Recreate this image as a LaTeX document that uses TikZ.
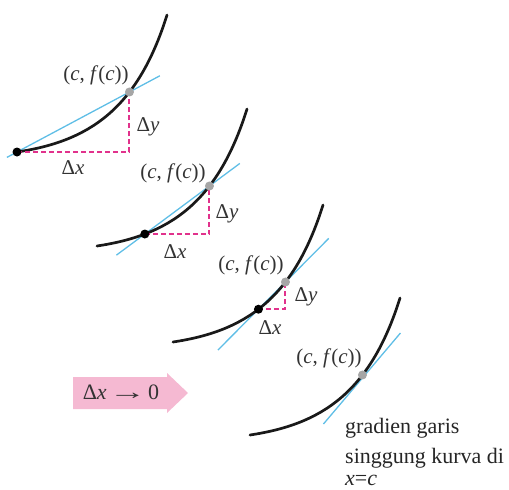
\documentclass[tikz,border=0pt]{standalone}
\usepackage{fontspec}
\usepackage{graphicx}
\setmainfont{Liberation Serif}
\usetikzlibrary{calc}
\begin{document}
\begin{tikzpicture}[x=1pt,y=-1pt,
  curve/.style={line width=2.7pt,line cap=round,black!90},
  tangent/.style={line width=1.3pt,color={rgb,255:red,95;green,190;blue,230}},
  delta/.style={line width=2pt,dash pattern=on 5pt off 3pt,color={rgb,255:red,225;green,50;blue,140}},
  lbl/.style={font=\fontsize{21}{24}\selectfont,text=black!80,inner sep=0pt},
  txt/.style={font=\fontsize{22}{24}\selectfont,text=black!85,inner sep=0pt,anchor=base west},
  bdot/.style={circle,fill=black,inner sep=0pt,minimum size=9pt},
  gdot/.style={circle,fill=black!35,inner sep=0pt,minimum size=9pt}]
\useasboundingbox (0,0) rectangle (509,490);
% panel 1
\begin{scope}[shift={(17,152)}]
\path (0,0) .. controls (70,-10.5) and (120,-41) .. (150,-137)
  coordinate[pos=0] (a1) coordinate[pos=0.66] (c1);
\coordinate (r1) at (a1 -| c1);
\draw[tangent] ($(a1)!-0.09!(c1)$) coordinate (t1s) -- ($(a1)!1.27!(c1)$) coordinate (t1e);
\draw[curve] (0,0) .. controls (70,-10.5) and (120,-41) .. (150,-137);
\draw[delta] (a1) -- (r1) -- (c1);
\node[bdot] at (a1) {};
\node[gdot] at (c1) {};
\end{scope}
\node[lbl] (p1) at (96,75) {(\textit{c}, \textit{f}(\textit{c}))};
\node[lbl] (dx1) at (73,168) {Δ\textit{x}};
\node[lbl] (dy1) at (148,127) {Δ\textit{y}};
% panel 2
\begin{scope}[shift={(97,246)}]
\path (0,0) .. controls (70,-10.5) and (120,-41) .. (150,-137)
  coordinate[pos=0.245] (a2) coordinate[pos=0.66] (c2);
\coordinate (r2) at (a2 -| c2);
\draw[tangent] ($(a2)!-0.44!(c2)$) coordinate (t2s) -- ($(a2)!1.47!(c2)$) coordinate (t2e);
\draw[curve] (0,0) .. controls (70,-10.5) and (120,-41) .. (150,-137);
\draw[delta] (a2) -- (r2) -- (c2);
\node[bdot] at (a2) {};
\node[gdot] at (c2) {};
\end{scope}
\node[lbl] (p2) at (173,173) {(\textit{c}, \textit{f}(\textit{c}))};
\node[lbl] (dx2) at (175,252) {Δ\textit{x}};
\node[lbl] (dy2) at (227,214) {Δ\textit{y}};
% panel 3
\begin{scope}[shift={(173,342)}]
\path (0,0) .. controls (70,-10.5) and (120,-41) .. (150,-137)
  coordinate[pos=0.47] (a3) coordinate[pos=0.66] (c3);
\coordinate (r3) at (a3 -| c3);
\draw[tangent] ($(a3)!-1.5!(c3)$) coordinate (t3s) -- ($(a3)!2.6!(c3)$) coordinate (t3e);
\draw[curve] (0,0) .. controls (70,-10.5) and (120,-41) .. (150,-137);
\draw[delta] (a3) -- (r3) -- (c3);
\node[bdot] at (a3) {};
\node[gdot] at (c3) {};
\end{scope}
\node[lbl] (p3) at (251,265) {(\textit{c}, \textit{f}(\textit{c}))};
\node[lbl] (dx3) at (270,328) {Δ\textit{x}};
\node[lbl] (dy3) at (306,297) {Δ\textit{y}};
% panel 4
\begin{scope}[shift={(250,435)}]
\path (0,0) .. controls (70,-10.5) and (120,-41) .. (150,-137)
  coordinate[pos=0.66] (c4);
\draw[tangent] ($(c4)+(-39,49)$) coordinate (t4s) -- ($(c4)+(38,-42)$) coordinate (t4e);
\draw[curve] (0,0) .. controls (70,-10.5) and (120,-41) .. (150,-137);
\node[gdot] at (c4) {};
\end{scope}
\node[lbl] (p4) at (329,358) {(\textit{c}, \textit{f}(\textit{c}))};
% arrow
\fill[color={rgb,255:red,245;green,185;blue,210}] (73,377) -- (167,377) -- (167,373) -- (188,393) -- (167,413) -- (167,409) -- (73,409) -- cycle;
\node[lbl,font=\fontsize{22}{24}\selectfont] (lim) at (121,392) {Δ\textit{x}\kern2pt\scalebox{1.7}[1]{→}\kern2pt 0};
% text
\node[txt] (g1) at (345,433) {gradien garis};
\node[txt] (g2) at (345,463) {singgung kurva di};
\node[txt] (g3) at (345,485) {\textit{x}=\textit{c}};
\end{tikzpicture}
\end{document}
